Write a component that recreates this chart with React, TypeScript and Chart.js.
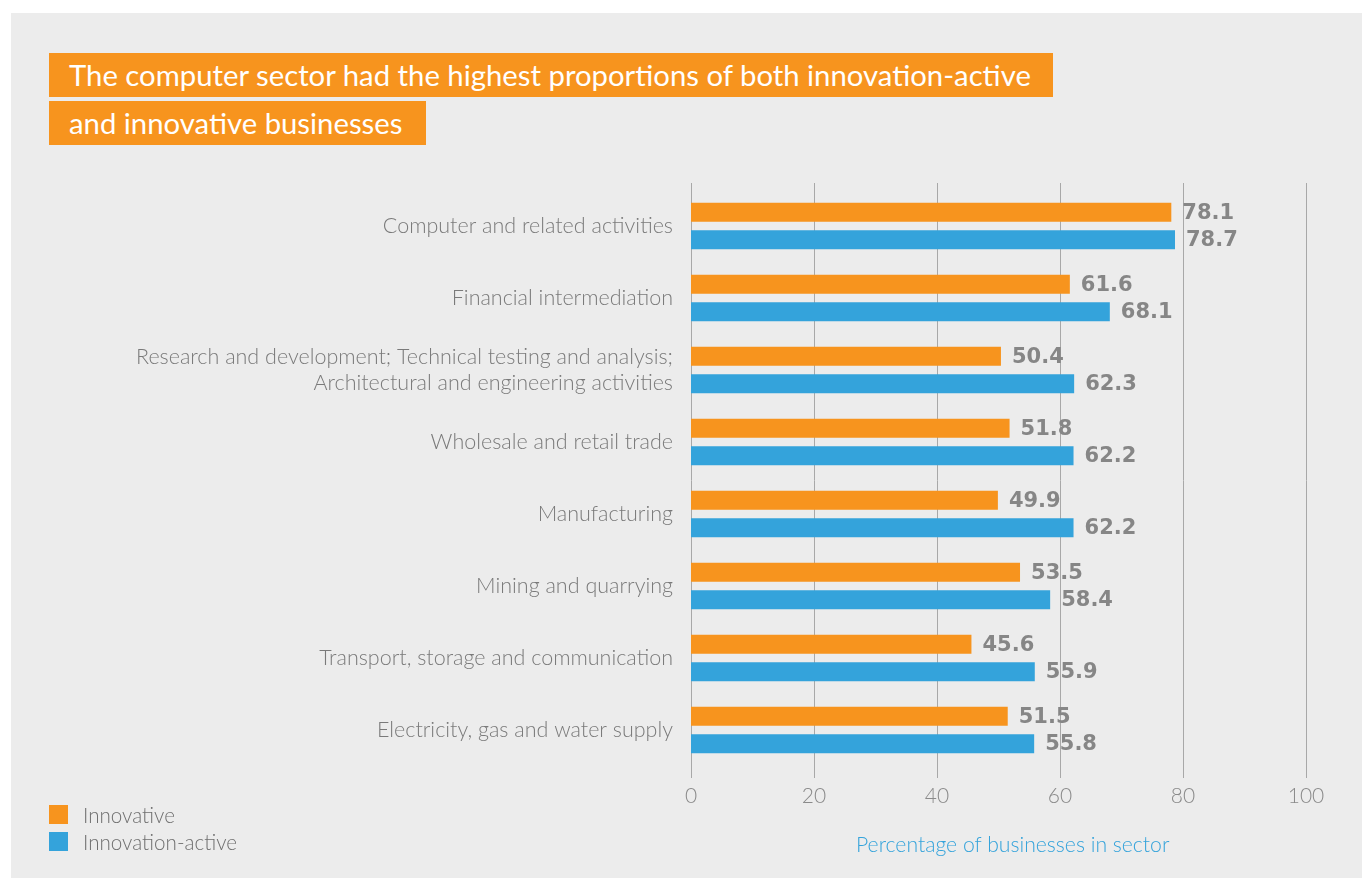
import React, { useEffect, useRef } from "react";
import { Chart, registerables } from "chart.js";

Chart.register(...registerables);

const categories: (string | string[])[] = [
  "Computer and related activities",
  "Financial intermediation",
  ["Research and development; Technical testing and analysis;", "Architectural and engineering activities"],
  "Wholesale and retail trade",
  "Manufacturing",
  "Mining and quarrying",
  "Transport, storage and communication",
  "Electricity, gas and water supply",
];
const innovative = [78.1, 61.6, 50.4, 51.8, 49.9, 53.5, 45.6, 51.5];
const innovationActive = [78.7, 68.1, 62.3, 62.2, 62.2, 58.4, 55.9, 55.8];
const seriesNames = ["Innovative", "Innovation-active"];
const xTicks = [0, 20, 40, 60, 80, 100];
const titleLines = [
  "The computer sector had the highest proportions of both innovation-active",
  "and innovative businesses",
];
const axisTitle = "Percentage of businesses in sector";

const ORANGE = "#F7941E";
const BLUE = "#34A3DB";
const FONT = "Lato, 'Noto Sans', sans-serif";
const BOLD_FONT = "'DejaVu Sans', sans-serif";

const gridPlugin = {
  id: "customGrid",
  beforeDatasetsDraw(chart: any) {
    const { ctx, chartArea, scales } = chart;
    const x = scales.x;
    ctx.save();
    ctx.strokeStyle = "#a8a8a8";
    ctx.lineWidth = 1;
    xTicks.forEach((v) => {
      const px = Math.round(x.getPixelForValue(v)) + 0.5;
      ctx.beginPath();
      ctx.moveTo(px, chartArea.top - 7);
      ctx.lineTo(px, chartArea.bottom + 12);
      ctx.stroke();
    });
    ctx.restore();
  },
};

const valueLabelPlugin = {
  id: "valueLabels",
  afterDatasetsDraw(chart: any) {
    const { ctx } = chart;
    ctx.save();
    ctx.font = `bold 21px ${BOLD_FONT}`;
    ctx.fillStyle = "#868686";
    ctx.textAlign = "left";
    ctx.textBaseline = "middle";
    chart.data.datasets.forEach((ds: any, di: number) => {
      const meta = chart.getDatasetMeta(di);
      meta.data.forEach((bar: any, i: number) => {
        ctx.fillText(Number(ds.data[i]).toFixed(1), bar.x + 11, bar.y + 1);
      });
    });
    ctx.restore();
  },
};

export default function App() {
  const canvasRef = useRef<HTMLCanvasElement>(null);

  useEffect(() => {
    document.body.style.margin = "0";
    const canvas = canvasRef.current!;
    const chart = new Chart(canvas, {
      type: "bar",
      data: {
        labels: categories,
        datasets: [
          { label: seriesNames[0], data: innovative, backgroundColor: ORANGE, borderWidth: 0 },
          { label: seriesNames[1], data: innovationActive, backgroundColor: BLUE, borderWidth: 0 },
        ],
      },
      options: {
        indexAxis: "y",
        responsive: false,
        animation: false,
        devicePixelRatio: 1,
        categoryPercentage: 0.764,
        barPercentage: 0.69,
        layout: { padding: { left: 0, top: 190, right: 56, bottom: 62 } },
        plugins: {
          legend: { display: false },
          tooltip: { enabled: false },
          title: { display: false },
        },
        scales: {
          x: {
            min: 0,
            max: 100,
            afterBuildTicks: (scale: any) => {
              scale.ticks = xTicks.map((v) => ({ value: v }));
            },
            afterFit: (scale: any) => {
              scale.height = 50;
            },
            grid: { display: false, drawTicks: false },
            border: { display: false },
            ticks: {
              padding: 18,
              color: "#8a8a8a",
              font: { family: FONT, size: 21, weight: "300" },
            },
          },
          y: {
            afterFit: (scale: any) => {
              scale.width = 691;
            },
            grid: { display: false, drawTicks: false },
            border: { display: false },
            ticks: {
              padding: 18,
              color: "#7a7a7a",
              font: { family: FONT, size: 21.5, weight: "300", lineHeight: 1.21 },
            },
          },
        },
      },
      plugins: [gridPlugin, valueLabelPlugin],
    });
    return () => chart.destroy();
  }, []);

  const titleStyle: React.CSSProperties = {
    position: "absolute",
    left: 49,
    height: 44,
    background: ORANGE,
    color: "#ffffff",
    fontFamily: FONT,
    fontSize: 29.3,
    lineHeight: "44px",
    paddingLeft: 20,
    boxSizing: "border-box",
    whiteSpace: "nowrap",
  };

  const legendText: React.CSSProperties = {
    position: "absolute",
    left: 83,
    fontFamily: FONT,
    fontWeight: 300,
    fontSize: 20.6,
    color: "#6f6f6f",
    lineHeight: "24px",
    whiteSpace: "nowrap",
  };

  return (
    <div style={{ position: "relative", width: 1362, height: 878, background: "#ffffff", overflow: "hidden" }}>
      <div style={{ position: "absolute", left: 11, top: 13, width: 1351, height: 865, background: "#ececec" }} />
      <canvas ref={canvasRef} width={1362} height={878} style={{ position: "absolute", left: 0, top: 0 }} />
      <div style={{ ...titleStyle, top: 53, width: 1004 }}>{titleLines[0]}</div>
      <div style={{ ...titleStyle, top: 101, width: 377 }}>{titleLines[1]}</div>
      <div style={{ position: "absolute", left: 49, top: 805, width: 19, height: 19, background: ORANGE }} />
      <div style={{ position: "absolute", left: 49, top: 832, width: 19, height: 19, background: BLUE }} />
      <div style={{ ...legendText, top: 803 }}>{seriesNames[0]}</div>
      <div style={{ ...legendText, top: 830 }}>{seriesNames[1]}</div>
      <div style={{ position: "absolute", left: 856, top: 831, fontFamily: FONT, fontWeight: 300, fontSize: 21.2, color: BLUE, lineHeight: "26px", whiteSpace: "nowrap" }}>
        {axisTitle}
      </div>
    </div>
  );
}
